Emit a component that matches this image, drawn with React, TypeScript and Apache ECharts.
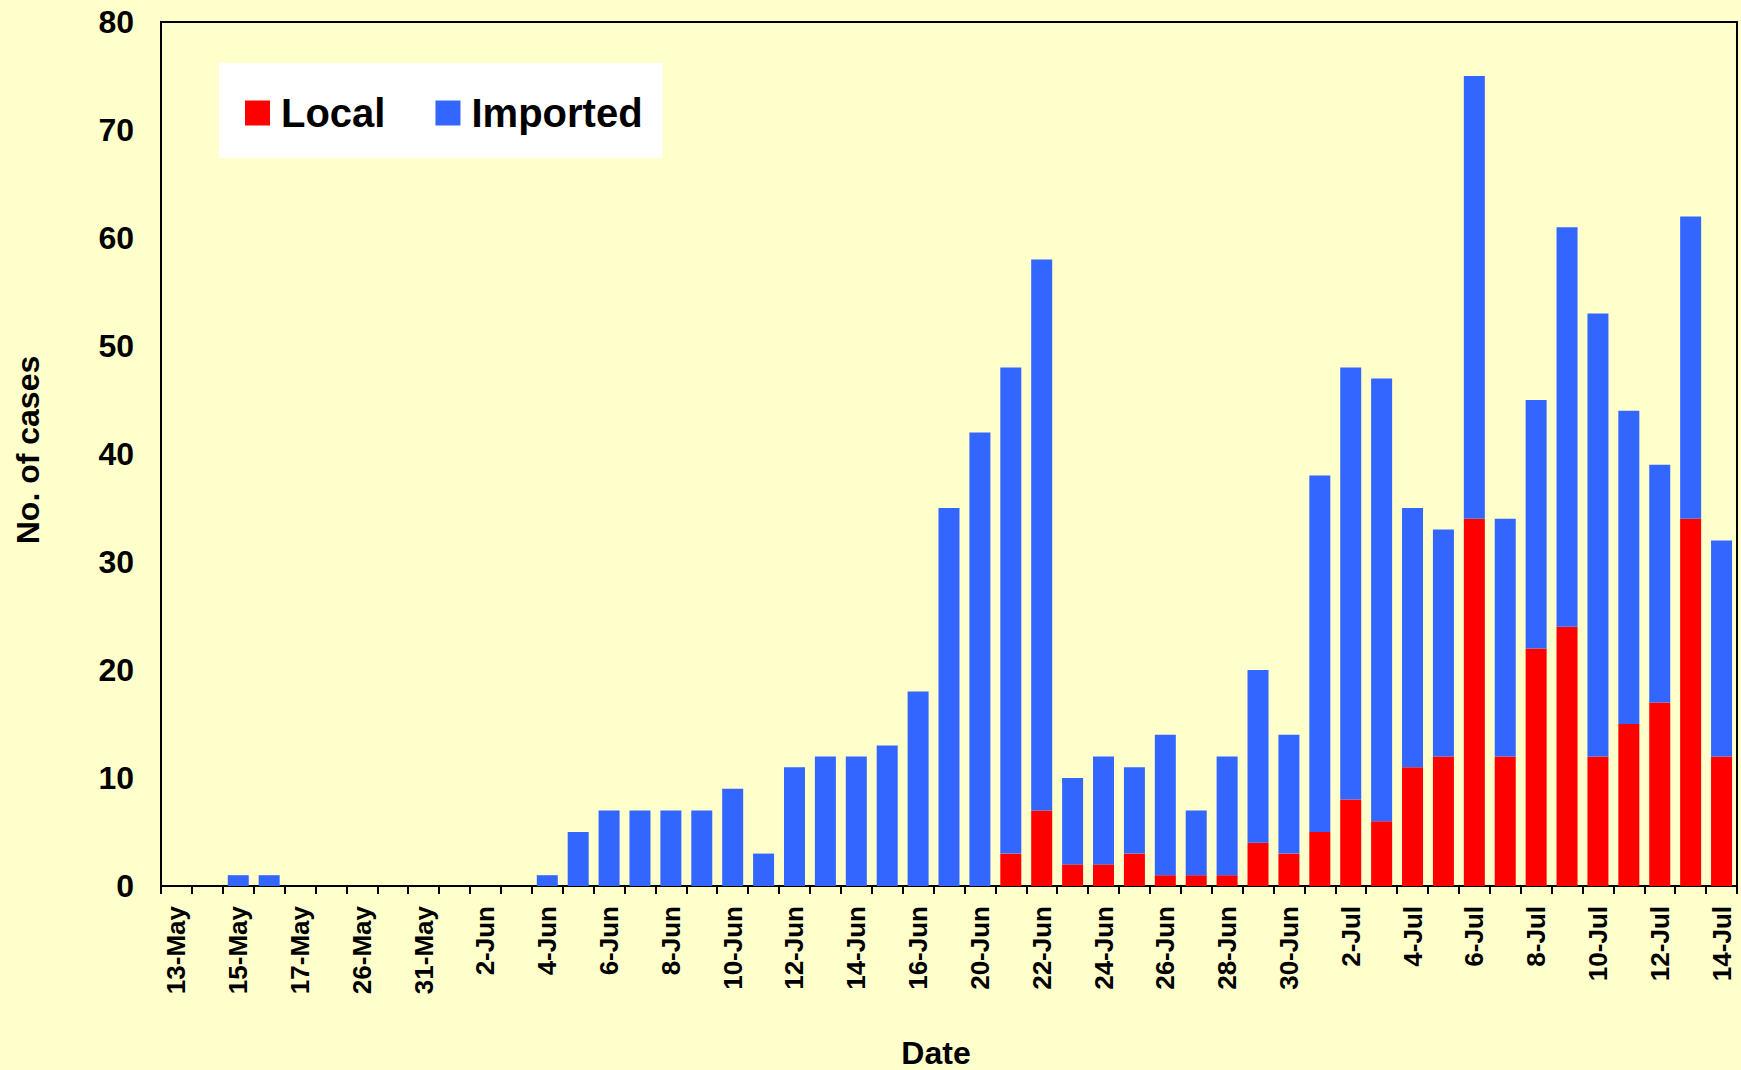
import React, { useEffect, useRef } from "react";
import * as echarts from "echarts";

const categories = [
  "13-May", "14-May", "15-May", "16-May", "17-May", "18-May", "26-May", "29-May", "31-May", "1-Jun",
  "2-Jun", "3-Jun", "4-Jun", "5-Jun", "6-Jun", "7-Jun", "8-Jun", "9-Jun", "10-Jun", "11-Jun",
  "12-Jun", "13-Jun", "14-Jun", "15-Jun", "16-Jun", "18-Jun", "20-Jun", "21-Jun", "22-Jun", "23-Jun",
  "24-Jun", "25-Jun", "26-Jun", "27-Jun", "28-Jun", "29-Jun", "30-Jun", "1-Jul", "2-Jul", "3-Jul",
  "4-Jul", "5-Jul", "6-Jul", "7-Jul", "8-Jul", "9-Jul", "10-Jul", "11-Jul", "12-Jul", "13-Jul",
  "14-Jul",
];

const localCases = [
  0, 0, 0, 0, 0, 0, 0, 0, 0, 0,
  0, 0, 0, 0, 0, 0, 0, 0, 0, 0,
  0, 0, 0, 0, 0, 0, 0, 3, 7, 2,
  2, 3, 1, 1, 1, 4, 3, 5, 8, 6,
  11, 12, 34, 12, 22, 24, 12, 15, 17, 34,
  12,
];

const importedCases = [
  0, 0, 1, 1, 0, 0, 0, 0, 0, 0,
  0, 0, 1, 5, 7, 7, 7, 7, 9, 3,
  11, 12, 12, 13, 18, 35, 42, 45, 51, 8,
  10, 8, 13, 6, 11, 16, 11, 33, 40, 41,
  24, 21, 41, 22, 23, 37, 41, 29, 22, 28,
  20,
];

const seriesNames = ["Local", "Imported"];
const xTitle = "Date";
const yTitle = "No. of cases";

const FONT = "'Liberation Sans', Arial, Helvetica, sans-serif";

export default function App() {
  const ref = useRef<HTMLDivElement>(null);

  useEffect(() => {
    if (!ref.current) return;
    const chart = echarts.init(ref.current, undefined, { renderer: "svg" });
    chart.setOption({
      animation: false,
      backgroundColor: "#FFFFCC",
      textStyle: { fontFamily: FONT },
      grid: {
        left: 161,
        right: 4,
        top: 22,
        bottom: 184,
        show: true,
        borderColor: "#000",
        borderWidth: 2,
        backgroundColor: "transparent",
      },
      legend: {
        data: seriesNames,
        left: 219,
        top: 63,
        backgroundColor: "#FFFFFF",
        padding: [30, 20, 25, 26],
        itemWidth: 25,
        itemHeight: 25,
        itemGap: 50,
        icon: "rect",
        selectedMode: false,
        textStyle: {
          fontSize: 40,
          fontWeight: "bold",
          color: "#000",
          fontFamily: FONT,
          padding: [0, 0, 0, 6],
        },
      },
      xAxis: {
        type: "category",
        data: categories,
        axisLine: { lineStyle: { color: "#000", width: 2 } },
        axisTick: {
          show: true,
          interval: 0,
          length: 8,
          lineStyle: { color: "#000", width: 2 },
        },
        axisLabel: {
          interval: 1,
          rotate: 90,
          fontSize: 26,
          fontWeight: "bold",
          color: "#000",
          fontFamily: FONT,
          margin: 20,
        },
      },
      yAxis: {
        type: "value",
        min: 0,
        max: 80,
        interval: 10,
        splitLine: { show: false },
        axisLine: { show: true, lineStyle: { color: "#000", width: 2 } },
        axisTick: { show: false },
        axisLabel: {
          fontSize: 32,
          fontWeight: "bold",
          color: "#000",
          fontFamily: FONT,
          margin: 27,
        },
      },
      series: [
        {
          name: seriesNames[0],
          type: "bar",
          stack: "total",
          data: localCases,
          barWidth: 21,
          itemStyle: { color: "#FF0000" },
        },
        {
          name: seriesNames[1],
          type: "bar",
          stack: "total",
          data: importedCases,
          barWidth: 21,
          itemStyle: { color: "#3366FF" },
        },
      ],
      graphic: [
        {
          type: "text",
          x: 936,
          y: 1053,
          style: {
            text: xTitle,
            fontSize: 32,
            fontWeight: "bold",
            fontFamily: FONT,
            fill: "#000",
            textAlign: "center",
            textVerticalAlign: "middle",
          },
        },
        {
          type: "text",
          x: 28,
          y: 450,
          rotation: Math.PI / 2,
          style: {
            text: yTitle,
            fontSize: 32,
            fontWeight: "bold",
            fontFamily: FONT,
            fill: "#000",
            textAlign: "center",
            textVerticalAlign: "middle",
          },
        },
      ],
    });
    return () => chart.dispose();
  }, []);

  return (
    <div
      ref={ref}
      style={{ position: "fixed", left: 0, top: 0, width: 1741, height: 1070 }}
    />
  );
}
